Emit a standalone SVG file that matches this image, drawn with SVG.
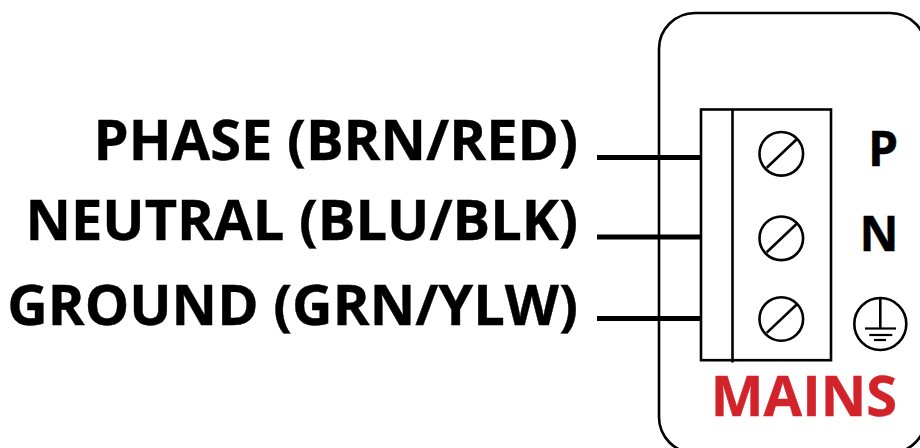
<svg xmlns="http://www.w3.org/2000/svg" width="920" height="448" viewBox="0 0 920 448">
<style>
.l{font-family:"Open Sans",sans-serif;font-weight:700;font-size:56px;fill:#000;stroke:#000;stroke-width:0.4;text-anchor:end}
.t{font-family:"Open Sans",sans-serif;font-weight:700;font-size:48px;fill:#000;stroke:#000;stroke-width:0.4;text-anchor:middle}
.w{stroke:#000;stroke-width:5;fill:none}
.s{stroke:#000;stroke-width:2.6;fill:none}
.b{stroke:#000;stroke-width:2.2;fill:none}
</style>
<rect width="920" height="448" fill="#fff"/>
<g id="enclosure"><rect class="s" x="659" y="13" width="267" height="440" rx="36"/></g>
<g id="labels">
<text class="l" x="578" y="160">PHASE (BRN/RED)</text>
<text class="l" x="578" y="240">NEUTRAL (BLU/BLK)</text>
<text class="l" x="578" y="325">GROUND (GRN/YLW)</text>
</g>
<g id="connectors">
<line class="w" x1="597" y1="157.5" x2="701" y2="157.5"/>
<line class="w" x1="597" y1="237" x2="701" y2="237"/>
<line class="w" x1="597" y1="318.5" x2="701" y2="318.5"/>
</g>
<g id="terminal">
<rect class="s" x="701" y="109.5" width="130" height="250.7"/>
<line class="s" x1="732.5" y1="109.5" x2="732.5" y2="362.5"/>
</g>
<g id="screw-p"><circle class="s" cx="781.3" cy="153.8" r="21.8"/><line class="s" x1="766.7" y1="167.7" x2="796.7" y2="139.3"/></g>
<g id="screw-n"><circle class="s" cx="781.3" cy="238.3" r="21.8"/><line class="s" x1="766.7" y1="252.2" x2="796.7" y2="223.8"/></g>
<g id="screw-g"><circle class="s" cx="781.3" cy="319" r="21.8"/><line class="s" x1="766.7" y1="332.9" x2="796.7" y2="304.5"/></g>
<g id="p"><text class="t" x="883" y="166">P</text></g>
<g id="n"><text class="t" x="879" y="251">N</text></g>
<g id="ground"><circle class="s" cx="880.3" cy="324" r="26"/><line class="s" x1="880.3" y1="298" x2="880.3" y2="328"/><line class="b" x1="865" y1="328.5" x2="896" y2="328.5"/><line class="b" x1="869.3" y1="335" x2="892.3" y2="335"/><line class="b" x1="874" y1="340" x2="886" y2="340"/></g>
<g id="mains"><text x="804" y="416" font-family="Open Sans, sans-serif" font-weight="700" font-size="56" fill="#d2232a" stroke="#d2232a" stroke-width="0.4" text-anchor="middle">MAINS</text></g>
</svg>
